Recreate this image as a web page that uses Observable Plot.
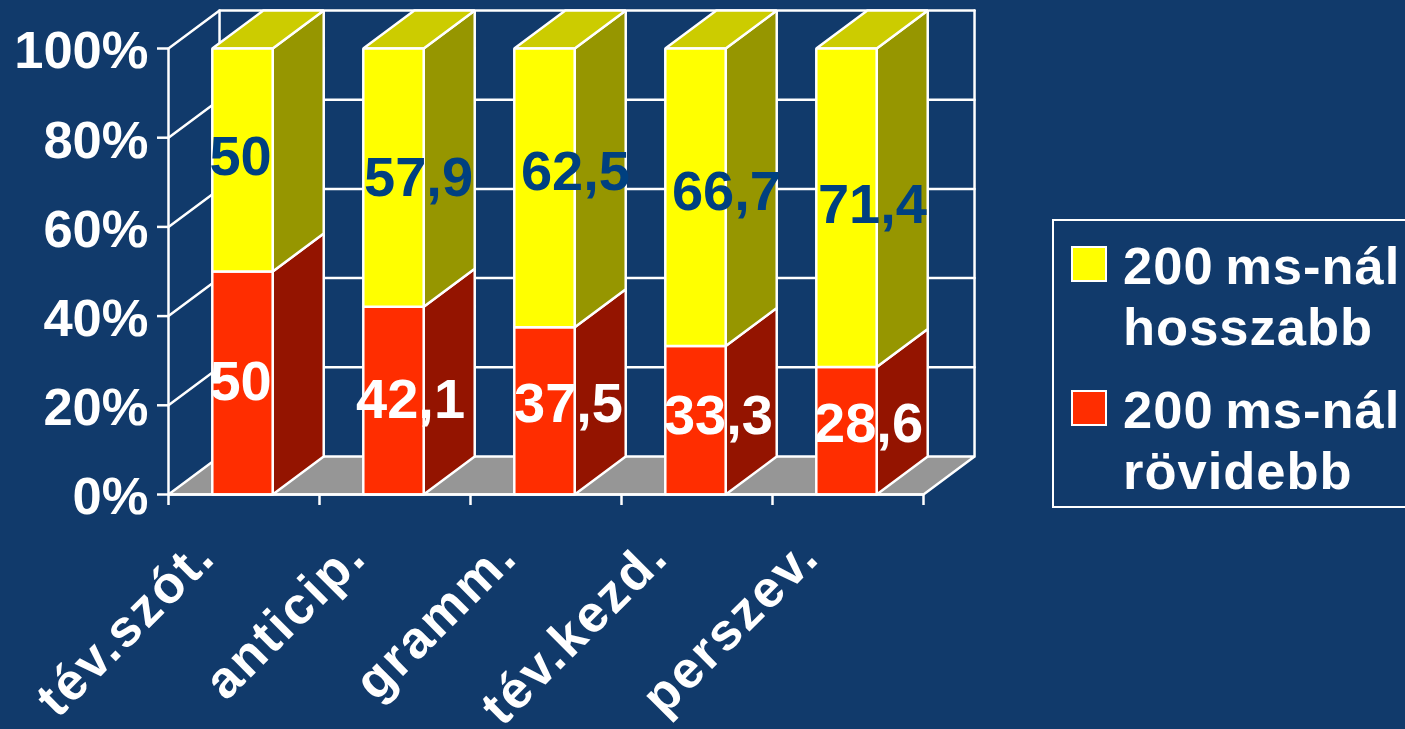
<!DOCTYPE html>
<html lang="hu">
<head>
<meta charset="utf-8">
<script src="https://cdn.jsdelivr.net/npm/d3@7"></script>
<script src="https://cdn.jsdelivr.net/npm/@observablehq/plot@0.6"></script>
<style>
html,body{margin:0;padding:0;width:1405px;height:729px;overflow:hidden;background:#113a6b;}
#chart{position:absolute;left:0;top:0;}
#legend{position:absolute;left:1052px;top:219px;width:360px;height:285px;border:2px solid #fff;box-sizing:content-box;
  font:bold 52.5px "Liberation Sans",Arial,sans-serif;color:#fff;letter-spacing:1px;word-spacing:-4px;}
#legend .sw{position:absolute;left:17px;width:32px;height:32px;border:2px solid #fff;}
#legend .t{position:absolute;left:69px;white-space:nowrap;line-height:1;}
.catlab text{letter-spacing:2.5px;}
</style>
</head>
<body>
<div id="chart"></div>
<div id="legend"></div>
<script>
const categories = ["tév.szót.", "anticip.", "gramm.", "tév.kezd.", "perszev."];
const shorter = [50, 42.1, 37.5, 33.3, 28.6];
const longer = [50, 57.9, 62.5, 66.7, 71.4];
const seriesNames = ["200 ms-nál hosszabb", "200 ms-nál rövidebb"];
const yTicks = [0, 20, 40, 60, 80, 100];

// where the value labels sit, in data units
const longerLabelX = [0.477, 1.656, 2.695, 3.695, 4.662];
const longerLabelY = [75.6, 70.9, 72.2, 67.7, 64.8];
const shorterLabelX = [0.477, 1.603, 2.649, 3.642, 4.636];
const shorterLabelY = [25.3, 21.1, 20.2, 17.5, 15.7];

// oblique projection of the depth axis, in data units
const depthX = 0.338, depthY = 8.52;
const halfBar = 0.2, barShift = -0.01;
const LINE = 2.5;
const FONT = '"Liberation Sans",Arial,sans-serif';
const fmt = v => String(v).replace(".", ",");

const poly = (pts, fill, stroke = "white") =>
  Plot.line(pts, {x: d => d[0], y: d => d[1], curve: "linear-closed", fill, stroke, strokeWidth: LINE, strokeLinejoin: "miter"});
const path = pts => Plot.line(pts, {x: d => d[0], y: d => d[1], stroke: "white", strokeWidth: LINE});

const marks = [];

// floor
marks.push(poly([[0, 0], [5, 0], [5 + depthX, depthY], [depthX, depthY]], "#969696"));

// walls
const gridTicks = yTicks.slice(1);
marks.push(Plot.ruleX([0], {y1: 0, y2: 100, stroke: "white", strokeWidth: LINE}));
marks.push(path([[depthX, depthY], [depthX, 100 + depthY]]));
marks.push(path([[5 + depthX, depthY], [5 + depthX, 100 + depthY]]));
for (const t of gridTicks) marks.push(path([[0, t], [depthX, t + depthY], [5 + depthX, t + depthY]]));

// bars
categories.forEach((c, i) => {
  const x0 = i + 0.5 + barShift - halfBar, x1 = i + 0.5 + barShift + halfBar;
  const s = shorter[i];
  marks.push(poly([[x1, 0], [x1 + depthX, depthY], [x1 + depthX, s + depthY], [x1, s]], "#941400"));
  marks.push(poly([[x1, s], [x1 + depthX, s + depthY], [x1 + depthX, 100 + depthY], [x1, 100]], "#969600"));
  marks.push(poly([[x0, 100], [x1, 100], [x1 + depthX, 100 + depthY], [x0 + depthX, 100 + depthY]], "#cccc00"));
  marks.push(poly([[x0, 0], [x1, 0], [x1, s], [x0, s]], "#ff2d00"));
  marks.push(poly([[x0, s], [x1, s], [x1, 100], [x0, 100]], "#ffff00"));
});

// value labels
marks.push(Plot.text(longer, {x: (d, i) => longerLabelX[i], y: (d, i) => longerLabelY[i], text: fmt,
  fill: "#004080", fontSize: 56, fontWeight: "bold", fontFamily: FONT}));
marks.push(Plot.text(shorter, {x: (d, i) => shorterLabelX[i], y: (d, i) => shorterLabelY[i], text: fmt,
  fill: "white", fontSize: 56, fontWeight: "bold", fontFamily: FONT}));

// axes
marks.push(Plot.axisY({ticks: yTicks, tickSize: 11, tickFormat: () => "", color: "white", strokeWidth: LINE, label: null}));
marks.push(Plot.axisY({ticks: yTicks, tickSize: 0, tickPadding: 20, tickFormat: d => d + "%", color: "white",
  fontSize: 52.5, fontWeight: "bold", fontFamily: FONT, label: null, dy: 3}));
marks.push(Plot.ruleY([0], {x1: 0, x2: 5, stroke: "white", strokeWidth: LINE}));
marks.push(Plot.axisX({ticks: d3.range(0, 6), tickSize: 11, tickFormat: () => "", color: "white", strokeWidth: LINE, label: null}));
marks.push(Plot.text(categories, {x: (d, i) => i + 0.5, y: () => 0, text: d => d, rotate: -45, textAnchor: "end",
  lineAnchor: "middle", dx: -38, dy: 53, fill: "white", fontSize: 52, fontWeight: "bold", fontFamily: FONT, className: "catlab"}));

const plot = Plot.plot({
  width: 1405, height: 729,
  marginLeft: 168, marginRight: 482, marginTop: 48, marginBottom: 235,
  x: {domain: [0, 5], axis: null},
  y: {domain: [0, 100], axis: null},
  style: {background: "#113a6b", overflow: "hidden"},
  marks
});
document.getElementById("chart").appendChild(plot);

// legend
const legend = document.getElementById("legend");
const swatches = [{c: "#ffff00", top: 25}, {c: "#ff2d00", top: 169}];
swatches.forEach((s, i) => {
  const [a, b, w] = seriesNames[i].split(" ");
  legend.insertAdjacentHTML("beforeend",
    `<div class="sw" style="top:${s.top}px;background:${s.c}"></div>
     <div class="t" style="top:${s.top - 6}px">${a} ${b}</div>
     <div class="t" style="top:${s.top + 55}px">${w}</div>`);
});
</script>
</body>
</html>
